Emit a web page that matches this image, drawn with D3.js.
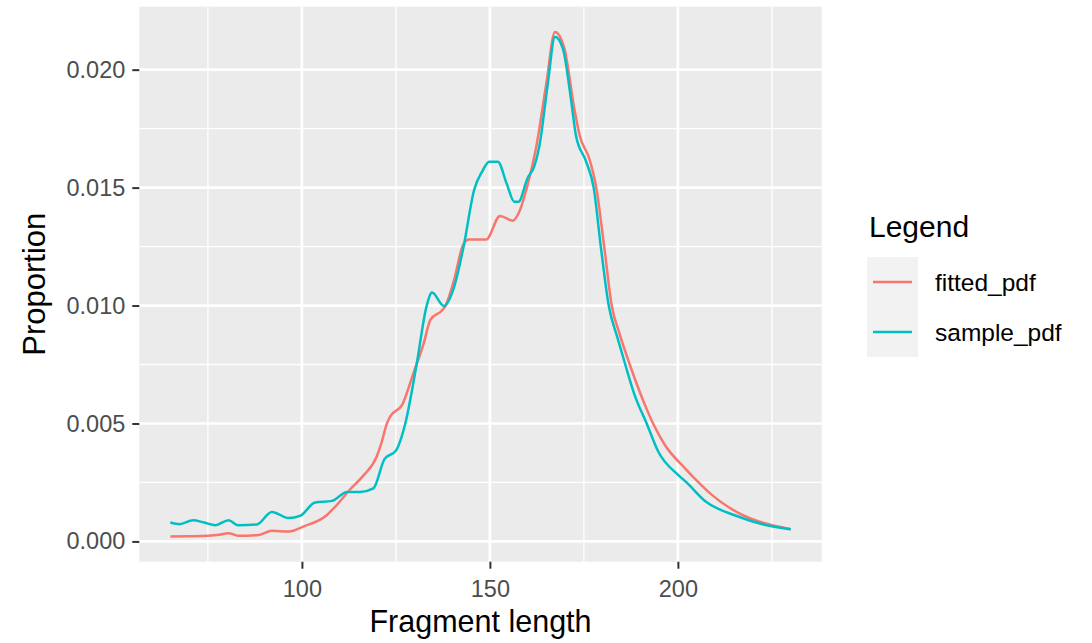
<!DOCTYPE html>
<html>
<head>
<meta charset="utf-8">
<script src="https://cdn.jsdelivr.net/npm/d3@7"></script>
<style>
  html, body { margin: 0; padding: 0; background: #ffffff; }
  svg { display: block; font-family: "Liberation Sans", Arial, sans-serif; }
</style>
</head>
<body>
<svg id="chart" width="1092" height="643"></svg>
<script>
// Fragment length distribution: fitted vs. sample probability density
const fittedLength = [65, 70, 75, 78, 80.5, 83, 88.5, 92, 96.5, 100.5, 106.5, 109, 112.8, 116.4, 119.9,
  121.2, 122.6, 123.5, 126.7, 129.8, 132.4, 134.2, 137.3, 138.2, 140.5, 142.7, 144.3, 149, 152.7,
  156.1, 157.6, 160, 162.3, 165, 167.3, 169.8, 172.5, 173.9, 176.5, 178.3, 180.4, 182.4, 184.5,
  187.2, 191.2, 193.4, 196.5, 201.9, 205.5, 208.1, 216.2, 222.4, 230];
const fittedPdf = [0.00021, 0.00022, 0.00024, 0.00028, 0.00035, 0.00024, 0.00027, 0.00045, 0.00042,
  0.00064, 0.00110, 0.00150, 0.00220, 0.00280, 0.00360, 0.00420, 0.00500, 0.00530, 0.00580,
  0.00720, 0.00840, 0.00940, 0.00980, 0.01000, 0.01110, 0.01250, 0.01280, 0.01280, 0.01380,
  0.01360, 0.01390, 0.01510, 0.01670, 0.01940, 0.02160, 0.02090, 0.01830, 0.01720, 0.01620,
  0.01500, 0.01250, 0.01000, 0.00880, 0.00750, 0.00580, 0.00500, 0.00410, 0.00310, 0.00250,
  0.00210, 0.00120, 0.00080, 0.00052];

const sampleLength = [65, 67.5, 71, 74, 77, 80.5, 83, 88, 92, 96.5, 99.5, 103.5, 108, 112, 115.5, 119,
  122, 125, 127.5, 130.5, 133.2, 134.6, 137.8, 140.5, 143, 145.8, 148, 149.8, 152.1, 154.5, 156.5,
  157.6, 160, 161.8, 163.2, 165.4, 167.3, 169.4, 171.6, 172.9, 175.6, 177.6, 179.5, 181.6, 184,
  186, 188.5, 191.7, 194.8, 200.2, 202.3, 207.3, 215.3, 222.5, 230];
const samplePdf = [0.00080, 0.00073, 0.00090, 0.00080, 0.00069, 0.00090, 0.00069, 0.00072, 0.00125,
  0.00099, 0.00108, 0.00165, 0.00172, 0.00210, 0.00210, 0.00225, 0.00350, 0.00385, 0.00500,
  0.00750, 0.01000, 0.01055, 0.00998, 0.01080, 0.01250, 0.01490, 0.01570, 0.01610, 0.01610,
  0.01515, 0.01440, 0.01440, 0.01540, 0.01590, 0.01680, 0.01940, 0.02140, 0.02090, 0.01870,
  0.01720, 0.01610, 0.01500, 0.01250, 0.01000, 0.00860, 0.00750, 0.00620, 0.00500, 0.00380,
  0.00280, 0.00250, 0.00170, 0.00110, 0.00073, 0.00052];

const seriesNames = ["fitted_pdf", "sample_pdf"];
const seriesColors = ["#F8766D", "#00BFC4"];
const xTicks = [100, 150, 200];
const yTicks = [0, 0.005, 0.010, 0.015, 0.020];
const xMinor = [75, 125, 175, 225];
const yMinor = [0.0025, 0.0075, 0.0125, 0.0175];

const series = [
  { name: seriesNames[0], color: seriesColors[0], points: fittedLength.map((x, i) => [x, fittedPdf[i]]) },
  { name: seriesNames[1], color: seriesColors[1], points: sampleLength.map((x, i) => [x, samplePdf[i]]) }
];

const panel = { left: 139.3, right: 821.7, top: 6.7, bottom: 561.7 };

// Continuous scales with 5% expansion on each side
function expand(ext) { const d = (ext[1] - ext[0]) * 0.05; return [ext[0] - d, ext[1] + d]; }
const allX = fittedLength.concat(sampleLength);
const allY = fittedPdf.concat(samplePdf);
const x = d3.scaleLinear().domain(expand(d3.extent(allX))).range([panel.left, panel.right]);
const y = d3.scaleLinear().domain(expand(d3.extent(allY))).range([panel.bottom, panel.top]);

const svg = d3.select("#chart");

// Panel background
svg.append("rect")
  .attr("x", panel.left).attr("y", panel.top)
  .attr("width", panel.right - panel.left).attr("height", panel.bottom - panel.top)
  .attr("fill", "#EBEBEB");

const grid = svg.append("g");
grid.selectAll(".ymin").data(yMinor).join("line")
  .attr("x1", panel.left).attr("x2", panel.right)
  .attr("y1", d => y(d)).attr("y2", d => y(d))
  .attr("stroke", "#ffffff").attr("stroke-width", 1.3);
grid.selectAll(".xmin").data(xMinor).join("line")
  .attr("y1", panel.top).attr("y2", panel.bottom)
  .attr("x1", d => x(d)).attr("x2", d => x(d))
  .attr("stroke", "#ffffff").attr("stroke-width", 1.3);
grid.selectAll(".ymaj").data(yTicks).join("line")
  .attr("x1", panel.left).attr("x2", panel.right)
  .attr("y1", d => y(d)).attr("y2", d => y(d))
  .attr("stroke", "#ffffff").attr("stroke-width", 2.7);
grid.selectAll(".xmaj").data(xTicks).join("line")
  .attr("y1", panel.top).attr("y2", panel.bottom)
  .attr("x1", d => x(d)).attr("x2", d => x(d))
  .attr("stroke", "#ffffff").attr("stroke-width", 2.7);

// Density curves
const line = d3.line().x(d => x(d[0])).y(d => y(d[1])).curve(d3.curveMonotoneX);
svg.append("g").selectAll("path").data(series).join("path")
  .attr("d", d => line(d.points))
  .attr("fill", "none")
  .attr("stroke", d => d.color)
  .attr("stroke-width", 2.5)
  .attr("stroke-linejoin", "round");

// Axes
const xAxis = svg.append("g")
  .attr("transform", `translate(0,${panel.bottom})`)
  .call(d3.axisBottom(x).tickValues(xTicks).tickFormat(d3.format("d")).tickSize(7).tickPadding(6));
const yAxis = svg.append("g")
  .attr("transform", `translate(${panel.left},0)`)
  .call(d3.axisLeft(y).tickValues(yTicks).tickFormat(d3.format(".3f")).tickSize(7).tickPadding(7));
[xAxis, yAxis].forEach(a => {
  a.select(".domain").remove();
  a.selectAll(".tick line").attr("stroke", "#333333").attr("stroke-width", 2);
  a.selectAll(".tick text").attr("fill", "#4D4D4D").style("font-size", "23.5px")
    .style("font-family", "'Liberation Sans', Arial, sans-serif");
});
xAxis.selectAll(".tick text").attr("dy", "0.95em");

// Axis titles
svg.append("text")
  .attr("x", (panel.left + panel.right) / 2).attr("y", 632)
  .attr("text-anchor", "middle").attr("fill", "#000")
  .style("font-size", "30.5px")
  .text("Fragment length");
svg.append("text")
  .attr("transform", `translate(45,${(panel.top + panel.bottom) / 2}) rotate(-90)`)
  .attr("text-anchor", "middle").attr("fill", "#000")
  .style("font-size", "31px")
  .text("Proportion");

// Legend
const legend = svg.append("g").attr("transform", "translate(867,257)");
legend.append("text")
  .attr("x", 2).attr("y", -20)
  .attr("fill", "#000").style("font-size", "30px")
  .text("Legend");
const keyW = 51, keyH = 50;
const item = legend.selectAll(".item").data(series).join("g")
  .attr("transform", (d, i) => `translate(0,${i * keyH})`);
item.append("rect")
  .attr("width", keyW).attr("height", keyH)
  .attr("fill", "#F2F2F2");
item.append("line")
  .attr("x1", 6).attr("x2", keyW - 6)
  .attr("y1", keyH / 2).attr("y2", keyH / 2)
  .attr("stroke", d => d.color).attr("stroke-width", 2.5);
item.append("text")
  .attr("x", 68).attr("y", keyH / 2 + 9)
  .attr("fill", "#000").style("font-size", "24.5px")
  .text(d => d.name);
</script>
</body>
</html>
